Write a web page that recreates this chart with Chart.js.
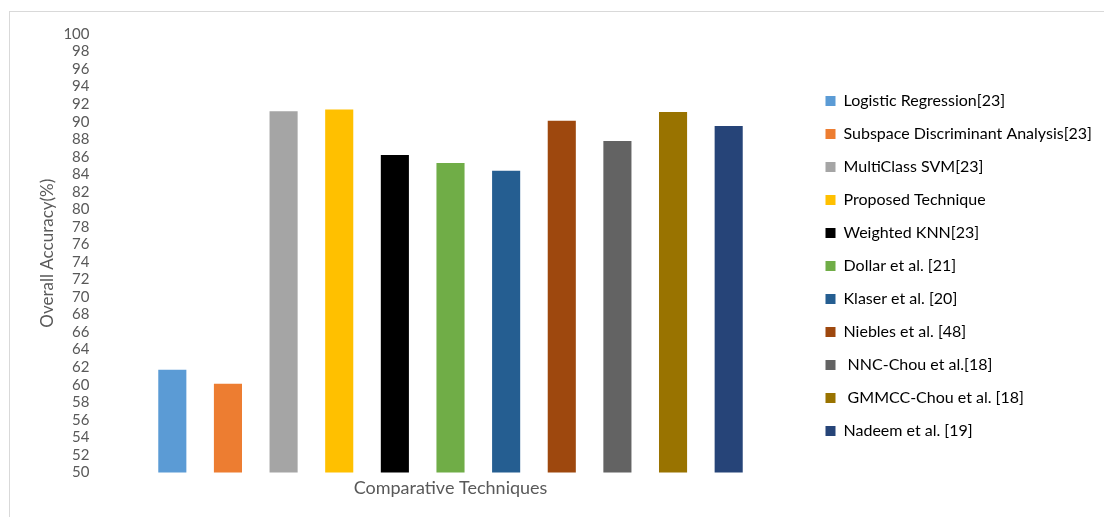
<!DOCTYPE html>
<html>
<head>
<meta charset="utf-8">
<script src="https://cdn.jsdelivr.net/npm/chart.js@4/dist/chart.umd.min.js"></script>
<style>
  html, body { margin: 0; padding: 0; background: #ffffff; overflow: hidden; }
  #marco {
    position: absolute; left: 9px; top: 11px;
    width: 1095px; height: 506px;
    border-top: 1px solid #d9d9d9; border-left: 1px solid #d9d9d9;
  }
  #grafico { display: block; }
</style>
</head>
<body>
<div id="marco"><canvas id="grafico" width="1095" height="506"></canvas></div>
<script>
// Técnicas comparadas y su precisión global (%)
const tecnicas = [
  'Logistic Regression[23]',
  'Subspace Discriminant Analysis[23]',
  'MultiClass SVM[23]',
  'Proposed Technique',
  'Weighted KNN[23]',
  'Dollar et al. [21]',
  'Klaser et al. [20]',
  'Niebles et al. [48]',
  ' NNC-Chou et al.[18]',
  ' GMMCC-Chou et al. [18]',
  'Nadeem et al. [19]',
];
const precision = [61.7, 60.1, 91.2, 91.4, 86.2, 85.3, 84.4, 90.1, 87.8, 91.1, 89.5];
const colores = [
  '#5b9bd5', '#ed7d31', '#a5a5a5', '#ffc000', '#000000', '#70ad47',
  '#255e91', '#9e480e', '#636363', '#997300', '#264478',
];

// Eje Y: de 50 a 100 de 2 en 2
const ejeYMin = 50;
const ejeYMax = 100;
const ejeYPaso = 2;

const colorTexto = '#595959';
const fuente = 'Lato, "Open Sans", sans-serif';

// Hueco entre los números del eje Y y las barras
const separacionTicksY = 55;

// La leyenda queda más separada del área del gráfico y un poco más arriba.
// margenTextoLeyenda: ancho extra para que el texto más largo no quede recortado.
const separacionLeyenda = 52;
const margenTextoLeyenda = 19;
const subidaLeyenda = 10;

const leyendaSeparada = {
  id: 'leyendaSeparada',
  beforeInit(chart) {
    const fitOriginal = chart.legend.fit;
    chart.legend.fit = function () {
      fitOriginal.call(this);
      this.width += separacionLeyenda + margenTextoLeyenda;
    };
  },
  afterLayout(chart) {
    chart.legend.left += separacionLeyenda;
    chart.legend.top -= subidaLeyenda;
    chart.legend.bottom -= subidaLeyenda;
  },
};

new Chart(document.getElementById('grafico'), {
  type: 'bar',
  data: {
    labels: tecnicas,
    datasets: [{
      label: 'Overall Accuracy',
      data: precision,
      backgroundColor: colores,
      borderWidth: 0,
      categoryPercentage: 1,
      barPercentage: 0.505,
    }],
  },
  options: {
    responsive: false,
    animation: false,
    layout: {
      padding: { left: 0, right: 5, top: 22, bottom: 0 },
    },
    plugins: {
      tooltip: { enabled: false },
      legend: {
        position: 'right',
        onClick: null,
        labels: {
          boxWidth: 10,
          boxHeight: 10,
          padding: 17,
          color: colorTexto,
          font: { family: fuente, size: 16 },
          generateLabels: (chart) => chart.data.labels.map((texto, i) => ({
            text: texto,
            fillStyle: colores[i],
            strokeStyle: colores[i],
            lineWidth: 0,
            hidden: false,
            index: i,
          })),
        },
      },
    },
    scales: {
      x: {
        grid: { display: false, drawTicks: false },
        border: { display: false },
        ticks: { display: false },
        title: {
          display: true,
          text: 'Comparative Techniques',
          color: colorTexto,
          font: { family: fuente, size: 18 },
          padding: { top: 5, bottom: 19 },
        },
      },
      y: {
        min: ejeYMin,
        max: ejeYMax,
        grid: { display: false, drawTicks: false },
        border: { display: false },
        title: {
          display: true,
          text: 'Overall Accuracy(%)',
          color: colorTexto,
          font: { family: fuente, size: 17 },
          padding: { top: 27, bottom: 6 },
        },
        ticks: {
          stepSize: ejeYPaso,
          autoSkip: false,
          padding: separacionTicksY,
          color: colorTexto,
          font: { family: fuente, size: 15 },
        },
        // Chart.js cuenta el padding de los ticks dos veces y además lo suma arriba y abajo
        afterFit(escala) {
          escala.width -= separacionTicksY;
          escala.paddingTop = 0;
          escala.paddingBottom = 0;
        },
      },
    },
  },
  plugins: [leyendaSeparada],
});
</script>
</body>
</html>
